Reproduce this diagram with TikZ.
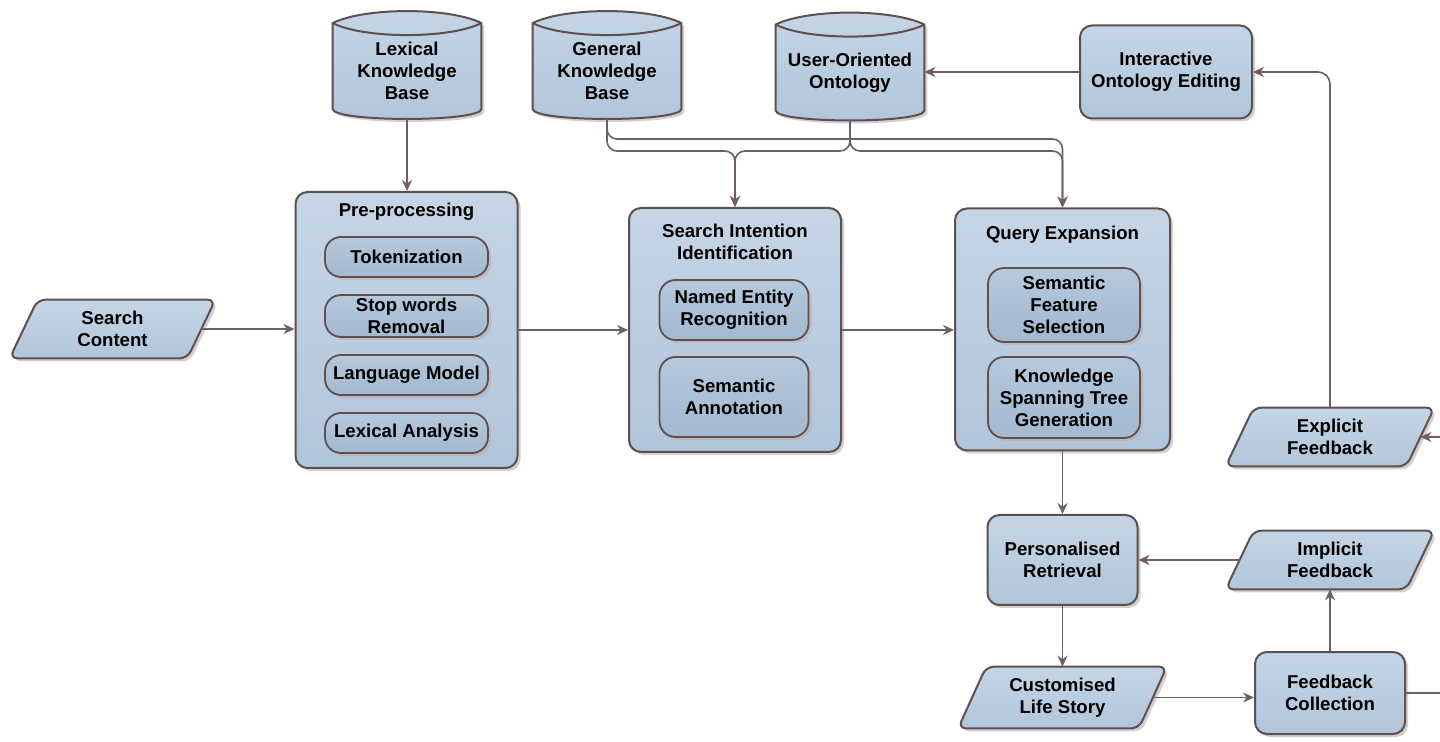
\documentclass[tikz,border=0pt]{standalone}
\usepackage{fontspec}
\setmainfont{Liberation Sans}
\usetikzlibrary{arrows.meta,shadows,backgrounds}

\definecolor{edgec}{HTML}{5C5050}
\definecolor{linkc}{HTML}{6E6060}
\definecolor{fillTop}{HTML}{C5D5E6}
\definecolor{fillBot}{HTML}{B1C5DA}
\definecolor{innerTop}{HTML}{B5C8DC}
\definecolor{innerBot}{HTML}{A3B9D0}
\definecolor{shadowc}{HTML}{BCAEAE}

\newcommand\labelfont{\fontsize{9.3}{11}\selectfont\bfseries}

% outline of a slanted input/output box around a text node
\newcommand\slantbox[1]{%
  \path[outline, rounded corners=4pt]
    ([xshift=-7pt]#1.south west) -- ([xshift=7pt]#1.north west)
    -- ([xshift=7pt]#1.north east) -- ([xshift=-7pt]#1.south east) -- cycle;}

% outline of a database drum around a text node
\newcommand\drum[1]{%
  \path[outline]
    (#1.north west) -- ([yshift=5pt]#1.south west)
    .. controls ([yshift=-1.7pt]#1.south west) and ([yshift=-1.7pt]#1.south east)
    .. ([yshift=5pt]#1.south east) -- (#1.north east)
    .. controls ([xshift=-16pt,yshift=8pt]#1.north east) and ([xshift=16pt,yshift=8pt]#1.north west)
    .. (#1.north west) -- cycle;
  \draw[draw=edgec, line width=1pt] (#1.north west)
    .. controls ([xshift=16pt,yshift=-8pt]#1.north west) and ([xshift=-16pt,yshift=-8pt]#1.north east)
    .. (#1.north east);}

\tikzset{
  softshadow/.style={drop shadow={shadow xshift=1.5pt, shadow yshift=-1.5pt, fill=shadowc, opacity=0.6}},
  blockfill/.style={top color=fillTop, bottom color=fillBot},
  block/.style={draw=edgec, line width=1pt, rounded corners=6pt, blockfill, softshadow,
    align=center, font=\labelfont, inner sep=0pt},
  subblock/.style={draw=edgec, line width=0.9pt, rounded corners=8pt, top color=innerTop,
    bottom color=innerBot, softshadow, align=center, font=\labelfont, inner sep=0pt},
  textonly/.style={align=center, font=\labelfont, inner sep=0pt},
  outline/.style={draw=edgec, line width=1pt, blockfill, softshadow},
  cyl/.style={textonly, minimum width=74pt, minimum height=47.5pt},
  slanted/.style={textonly, minimum width=90pt, minimum height=29pt},
  link/.style={draw=linkc, line width=0.8pt, -{Stealth[length=5.5pt,width=5pt]}},
  plainlink/.style={draw=linkc, line width=0.8pt},
}

\begin{document}
\begin{tikzpicture}[x=0.5pt, y=-0.5pt]
\useasboundingbox (0,0) rectangle (1440,742);
\coordinate (rightedge) at (1440,0);
\coordinate (busA) at (0,139);
\coordinate (busB) at (0,151);

% knowledge sources
\node[cyl] (lkb) at (407,71) {Lexical\\Knowledge\\Base};
\node[cyl] (gkb) at (607,71) {General\\Knowledge\\Base};
\node[cyl] (uoo) at (850,72.5) {User-Oriented\\Ontology};
\node[block, minimum width=86pt, minimum height=46.5pt] (ioe) at (1166,72)
  {Interactive\\Ontology Editing};

% pre-processing stage
\node[block, minimum width=111pt, minimum height=138pt] (pp) at (406.5,330) {};
\node[textonly] (ppt) at (406.5,212) {Pre-processing};
\node[subblock, minimum width=81.5pt, minimum height=20pt] (tok) at (406.5,257) {Tokenization};
\node[subblock, minimum width=81.5pt, minimum height=21pt] (stw) at (406.5,316) {Stop words\\Removal};
\node[subblock, minimum width=81.5pt, minimum height=20pt] (lm) at (406.5,375) {Language Model};
\node[subblock, minimum width=81.5pt, minimum height=20pt] (la) at (406.5,433) {Lexical Analysis};

% search intention identification stage
\node[block, minimum width=106pt, minimum height=122pt] (sii) at (735,330) {};
\node[textonly] (siit) at (735,242) {Search Intention\\Identification};
\node[subblock, minimum width=74.5pt, minimum height=30pt] (ner) at (734,310) {Named Entity\\Recognition};
\node[subblock, minimum width=74.5pt, minimum height=40pt] (sa) at (734,397) {Semantic\\Annotation};

% query expansion stage
\node[block, minimum width=107.5pt, minimum height=121pt] (qe) at (1062.5,329.5) {};
\node[textonly] (qet) at (1062.5,235) {Query Expansion};
\node[subblock, minimum width=76pt, minimum height=37pt] (sfs) at (1064,305) {Semantic\\Feature\\Selection};
\node[subblock, minimum width=76pt, minimum height=40.5pt] (kst) at (1064,397.5) {Knowledge\\Spanning Tree\\Generation};

% retrieval and feedback
\node[block, minimum width=75pt, minimum height=45pt] (pr) at (1062.5,560) {Personalised\\Retrieval};
\node[block, minimum width=75pt, minimum height=41pt] (fc) at (1330,693) {Feedback\\Collection};

% slanted input/output boxes
\node[slanted, minimum width=88.5pt] (sc) at (112.5,329) {Search\\Content};
\node[slanted] (ef) at (1330,437) {Explicit\\Feedback};
\node[slanted] (imf) at (1330,560) {Implicit\\Feedback};
\node[slanted, minimum height=30.5pt] (cls) at (1062.5,697.5) {Customised\\Life Story};

\begin{scope}[on background layer]
  \drum{lkb}
  \drum{gkb}
  \drum{uoo}
  \slantbox{sc}
  \slantbox{ef}
  \slantbox{imf}
  \slantbox{cls}
\end{scope}

% main flow
\draw[link] (lkb.south) -- (lkb.south |- pp.north);
\draw[link] (sc.east) -- (sc.east -| pp.west);
\draw[link] (pp.east) -- (sii.west);
\draw[link] (sii.east) -- (sii.east -| qe.west);
\draw[link] (qe.south) -- (pr.north);
\draw[link] (pr.south) -- (cls.north);
\draw[link] (cls.east) -- (cls.east -| fc.west);
\draw[link] (fc.north) -- (imf.south);
\draw[link] (imf.west) -- (pr.east);
\draw[plainlink] (fc.east) -- (fc.east -| rightedge);
\coordinate (efin) at (1440,437);
\draw[link] (efin) -- (ef.east);
\draw[link, rounded corners=6pt] (ef.north) |- (ioe.east);
\draw[link] (ioe.west) -- (ioe.west -| uoo.east);

% knowledge feeds into the semantic stages
\draw[link, rounded corners=5pt] (gkb.south) -- (gkb.south |- busA) -- (qe.north |- busA) -- (qe.north);
\draw[link, rounded corners=5pt] (gkb.south) -- (gkb.south |- busB) -- (sii.north |- busB) -- (sii.north);
\draw[link, rounded corners=5pt] (uoo.south) -- (uoo.south |- busB) -- (sii.north |- busB) -- (sii.north);
\draw[link, rounded corners=5pt] (uoo.south) -- (uoo.south |- busB) -- (qe.north |- busB) -- (qe.north);
\end{tikzpicture}
\end{document}
